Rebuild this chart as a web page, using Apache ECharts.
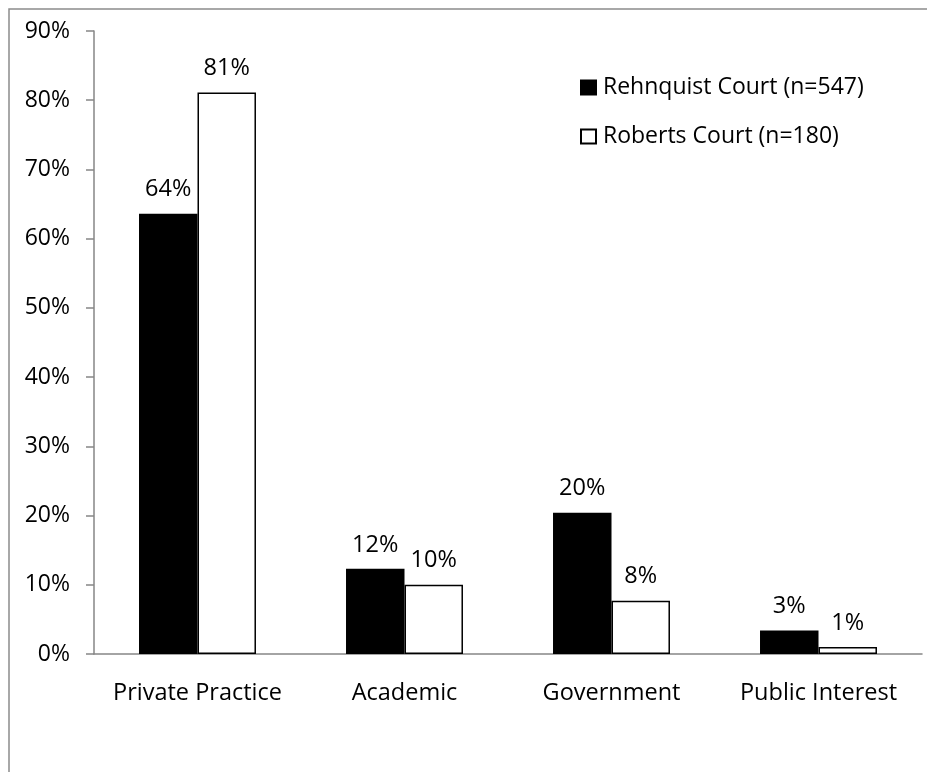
<!DOCTYPE html>
<html>
<head>
<meta charset="utf-8">
<script src="https://cdn.jsdelivr.net/npm/echarts@6/dist/echarts.min.js"></script>
<style>
html,body{margin:0;padding:0;background:#fff;}
#c{width:927px;height:772px;}
</style>
</head>
<body>
<div id="c"></div>
<script>
const categories = ['Private Practice', 'Academic', 'Government', 'Public Interest'];
const rehnquist = [63.6, 12.3, 20.4, 3.4];
const roberts = [81.1, 10.0, 7.7, 1.0];
const seriesNames = ['Rehnquist Court (n=547)', 'Roberts Court (n=180)'];

const FONT = 'Open Sans';
const FS = 23;
const chart = echarts.init(document.getElementById('c'), null, {renderer: 'canvas'});
const labelCfg = {
  show: true, position: 'top', distance: 12,
  color: '#000', fontFamily: FONT, fontSize: 23.5,
  formatter: p => Math.round(p.value) + '%'
};
chart.setOption({
  animation: false,
  backgroundColor: '#fff',
  textStyle: {fontFamily: FONT},
  graphic: [{
    type: 'polyline', silent: true,
    shape: {points: [[9, 780], [9, 9], [935, 9]]},
    style: {stroke: '#8c8c8c', lineWidth: 1.5, fill: null}
  }],
  grid: {left: 94, right: 5, top: 31, bottom: 118, containLabel: false},
  legend: {
    orient: 'vertical', left: 580, top: 76, padding: 0,
    icon: 'rect',
    itemWidth: 15, itemHeight: 14, itemGap: 26,
    textStyle: {fontFamily: FONT, fontSize: FS, color: '#000', padding: [0, 0, 0, 2]},
    data: seriesNames
  },
  xAxis: {
    type: 'category', data: categories,
    axisLine: {lineStyle: {color: '#868686', width: 1.5}},
    axisTick: {show: false},
    axisLabel: {color: '#000', fontFamily: FONT, fontSize: 23.5, margin: 27, interval: 0}
  },
  yAxis: {
    type: 'value', min: 0, max: 90, interval: 10,
    axisLine: {show: true, lineStyle: {color: '#868686', width: 1.5}},
    axisTick: {show: true, inside: false, length: 8, lineStyle: {color: '#868686', width: 1.5}},
    splitLine: {show: false},
    axisLabel: {color: '#000', fontFamily: FONT, fontSize: FS, margin: 24, formatter: '{value}%'}
  },
  series: [
    {
      name: seriesNames[0], type: 'bar', data: rehnquist,
      barGap: '0%', barCategoryGap: '43.5%',
      itemStyle: {color: '#000', borderColor: '#000', borderWidth: 1.5},
      label: labelCfg
    },
    {
      name: seriesNames[1], type: 'bar', data: roberts,
      itemStyle: {color: '#fff', borderColor: '#000', borderWidth: 1.5},
      label: labelCfg
    }
  ]
});
</script>
</body>
</html>
